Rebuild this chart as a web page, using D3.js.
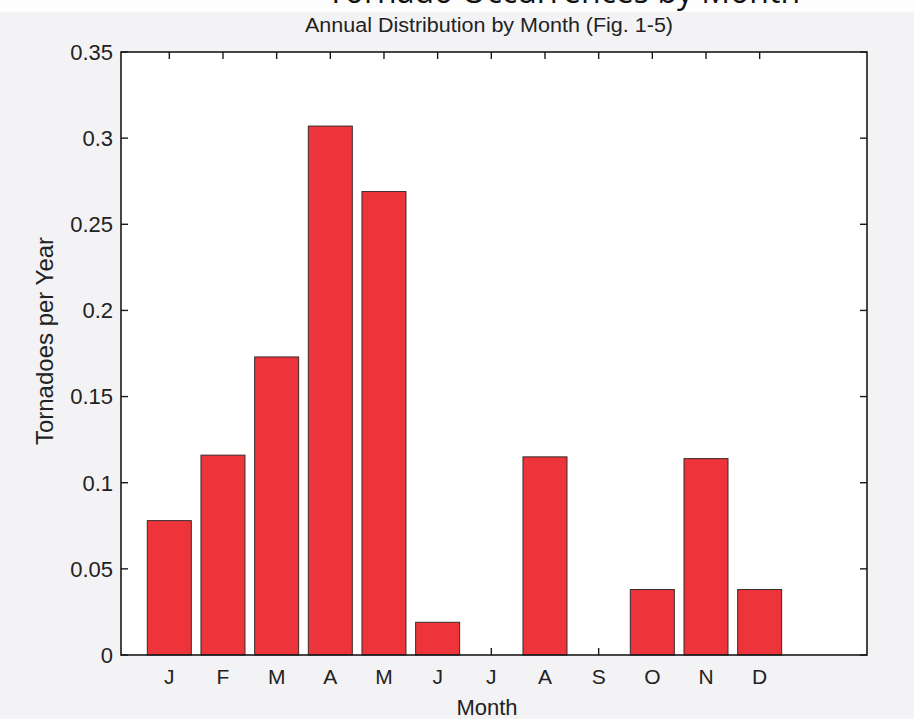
<!DOCTYPE html>
<html>
<head>
<meta charset="utf-8">
<script src="https://cdn.jsdelivr.net/npm/d3@7"></script>
<style>
  html, body { margin: 0; padding: 0; background: #f3f2f4; }
  svg { display: block; }
</style>
</head>
<body>
<svg id="chart" width="914" height="719"></svg>
<script>
// Monthly tornado counts, averaged per year
const months = ["J", "F", "M", "A", "M", "J", "J", "A", "S", "O", "N", "D"];
const tornadoesPerYear = [0.078, 0.116, 0.173, 0.307, 0.269, 0.019, 0, 0.115, 0, 0.038, 0.114, 0.038];
const yTicks = [0, 0.05, 0.1, 0.15, 0.2, 0.25, 0.3, 0.35];
const yTickLabels = ["0", "0.05", "0.1", "0.15", "0.2", "0.25", "0.3", "0.35"];

const svg = d3.select("#chart");
const W = 914, H = 719;
const plot = { left: 121, top: 52, right: 867, bottom: 655 };
const barWidth = 0.82;
const tickLen = 7;
const font = "'Liberation Sans', Arial, sans-serif";

// white strip at the top with the page heading running off the edge
svg.append("rect").attr("x", 0).attr("y", 0).attr("width", W).attr("height", 12).attr("fill", "#fdfdfd");
svg.append("text")
  .attr("x", 800).attr("y", 3)
  .attr("text-anchor", "end")
  .attr("font-family", "'Open Sans', sans-serif")
  .attr("font-size", 32)
  .attr("fill", "#111")
  .text("Tornado Occurrences by Month");

const x = d3.scaleLinear().domain([0.1, 14]).range([plot.left, plot.right]);
const y = d3.scaleLinear().domain([0, 0.35]).range([plot.bottom, plot.top]);

// plot area
svg.append("rect")
  .attr("x", plot.left).attr("y", plot.top)
  .attr("width", plot.right - plot.left).attr("height", plot.bottom - plot.top)
  .attr("fill", "#ffffff");

const monthIdx = months.map((m, i) => i + 1);

// inward ticks: bottom & top (months), left & right (values)
const axisG = svg.append("g").attr("stroke", "#1a1a1a").attr("stroke-width", 1.4);
monthIdx.forEach(i => {
  axisG.append("line").attr("x1", x(i)).attr("x2", x(i)).attr("y1", plot.bottom).attr("y2", plot.bottom - tickLen);
  axisG.append("line").attr("x1", x(i)).attr("x2", x(i)).attr("y1", plot.top).attr("y2", plot.top + tickLen);
});
yTicks.forEach(v => {
  axisG.append("line").attr("x1", plot.left).attr("x2", plot.left + tickLen).attr("y1", y(v)).attr("y2", y(v));
  axisG.append("line").attr("x1", plot.right).attr("x2", plot.right - tickLen).attr("y1", y(v)).attr("y2", y(v));
});

// bars
svg.append("g").selectAll("rect")
  .data(tornadoesPerYear)
  .join("rect")
  .attr("x", (d, i) => x(i + 1 - barWidth / 2))
  .attr("width", x(1 + barWidth / 2) - x(1 - barWidth / 2))
  .attr("y", d => y(d))
  .attr("height", d => y(0) - y(d))
  .attr("fill", "#ee343b")
  .attr("stroke", "#3a2a2a")
  .attr("stroke-width", 1);

// frame
svg.append("rect")
  .attr("x", plot.left).attr("y", plot.top)
  .attr("width", plot.right - plot.left).attr("height", plot.bottom - plot.top)
  .attr("fill", "none").attr("stroke", "#1a1a1a").attr("stroke-width", 1.6);

// tick labels
svg.append("g").selectAll("text")
  .data(yTicks)
  .join("text")
  .attr("x", plot.left - 8)
  .attr("y", d => y(d))
  .attr("dy", "0.36em")
  .attr("text-anchor", "end")
  .attr("font-family", font).attr("font-size", 22).attr("fill", "#222")
  .text((d, i) => yTickLabels[i]);

svg.append("g").selectAll("text")
  .data(months)
  .join("text")
  .attr("x", (d, i) => x(i + 1))
  .attr("y", 684)
  .attr("text-anchor", "middle")
  .attr("font-family", font).attr("font-size", 21).attr("fill", "#222")
  .text(d => d);

// title and axis labels
svg.append("text")
  .attr("x", 489).attr("y", 32)
  .attr("text-anchor", "middle")
  .attr("font-family", font).attr("font-size", 20).attr("fill", "#222")
  .attr("textLength", 368).attr("lengthAdjust", "spacingAndGlyphs")
  .text("Annual Distribution by Month (Fig. 1-5)");

svg.append("text")
  .attr("x", 487).attr("y", 715)
  .attr("text-anchor", "middle")
  .attr("font-family", font).attr("font-size", 22).attr("fill", "#222")
  .text("Month");

svg.append("text")
  .attr("transform", "translate(53,341) rotate(-90)")
  .attr("text-anchor", "middle")
  .attr("font-family", font).attr("font-size", 24).attr("fill", "#222")
  .text("Tornadoes per Year");
</script>
</body>
</html>
